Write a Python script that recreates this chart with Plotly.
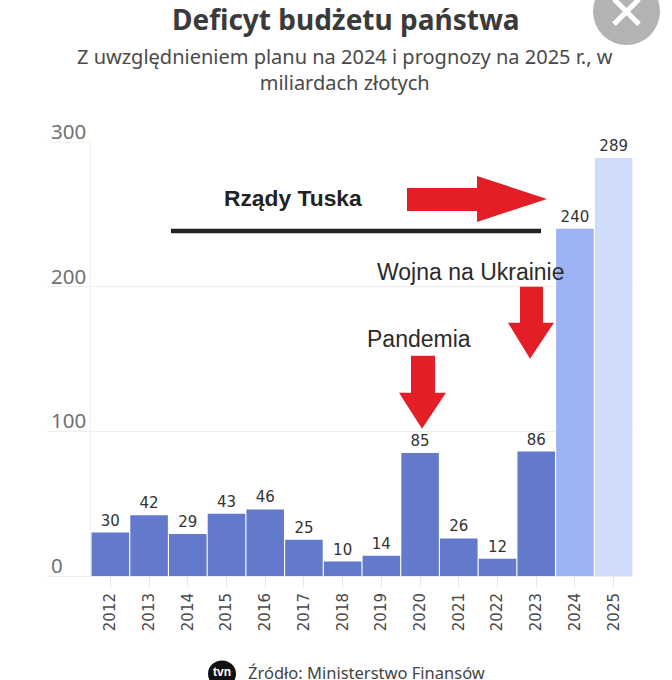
import plotly.graph_objects as go

years = ["2012", "2013", "2014", "2015", "2016", "2017", "2018", "2019", "2020", "2021", "2022", "2023", "2024", "2025"]
deficit = [30, 42, 29, 43, 46, 25, 10, 14, 85, 26, 12, 86, 240, 289]
bar_colors = ["#6279cc"] * 12 + ["#9db1f5", "#d0dcfb"]
y_ticks = [0, 100, 200, 300]

WIDTH = 672
HEIGHT = 680
LEFT, RIGHT, TOP, BOTTOM = 91, 633, 142, 576.5


# pixel position in the picture -> paper coordinates
def px(x):
    return (x - LEFT) / (RIGHT - LEFT)


def py(y):
    return (BOTTOM - y) / (BOTTOM - TOP)


def polygon(points):
    return "M " + " L ".join("%.4f,%.4f" % (px(x), py(y)) for x, y in points) + " Z"


fig = go.Figure()
fig.add_trace(go.Bar(
    x=years,
    y=deficit,
    marker={"color": bar_colors, "line": {"width": 0}},
    text=deficit,
    textposition="outside",
    textangle=0,
    cliponaxis=False,
    textfont={"family": "DejaVu Sans", "size": 15, "color": "#333333"},
    hoverinfo="skip",
))

annotations = [
    {"text": "Deficyt budżetu państwa", "x": 346, "y": 19, "size": 28, "color": "#3a3a3a",
     "family": "Noto Sans", "bold": True},
    {"text": "Z uwzględnieniem planu na 2024 i prognozy na 2025 r., w<br>miliardach złotych", "x": 345, "y": 69,
     "size": 20, "color": "#4a4a4a", "family": "Noto Sans"},
    {"text": "Rządy Tuska", "x": 293, "y": 198, "size": 22.8, "color": "#222222",
     "family": "Liberation Sans", "bold": True},
    {"text": "Wojna na Ukrainie", "x": 471, "y": 272, "size": 23, "color": "#2b2b2b",
     "family": "Liberation Sans"},
    {"text": "Pandemia", "x": 419, "y": 339, "size": 23, "color": "#2b2b2b", "family": "Liberation Sans"},
    {"text": "Źródło: Ministerstwo Finansów", "x": 366, "y": 673, "size": 16.5, "color": "#444444",
     "family": "Noto Sans"},
    {"text": "tvn", "x": 222, "y": 673, "size": 12, "color": "#ffffff", "family": "Liberation Sans",
     "bold": True},
]
layout_annotations = []
for a in annotations:
    layout_annotations.append({
        "text": "<b>%s</b>" % a["text"] if a.get("bold") else a["text"],
        "xref": "paper", "yref": "paper", "x": px(a["x"]), "y": py(a["y"]),
        "xanchor": "center", "yanchor": "middle", "showarrow": False,
        "font": {"family": a["family"], "size": a["size"], "color": a["color"]},
    })

# y labels sit on top of the gridlines, at the left end
for tick in y_ticks:
    layout_annotations.append({
        "text": str(tick), "xref": "paper", "yref": "y", "x": px(49), "y": tick, "yshift": 11,
        "xanchor": "left", "yanchor": "middle", "showarrow": False,
        "font": {"family": "Noto Sans", "size": 20.5, "color": "#707070"},
    })

red = "#e31e26"
shapes = [
    # close button
    {"type": "circle", "xref": "paper", "yref": "paper", "x0": px(593), "x1": px(660), "y0": py(45), "y1": py(-23),
     "fillcolor": "#b3b3b3", "line": {"width": 0}},
    {"type": "line", "xref": "paper", "yref": "paper", "x0": px(614), "x1": px(639), "y0": py(-1), "y1": py(24),
     "line": {"color": "#ffffff", "width": 5}},
    {"type": "line", "xref": "paper", "yref": "paper", "x0": px(639), "x1": px(614), "y0": py(-1), "y1": py(24),
     "line": {"color": "#ffffff", "width": 5}},
    # Tusk line
    {"type": "line", "xref": "paper", "yref": "paper", "x0": px(171), "x1": px(541), "y0": py(231), "y1": py(231),
     "line": {"color": "#222222", "width": 4.5}},
    # red arrows
    {"type": "path", "xref": "paper", "yref": "paper", "fillcolor": red, "line": {"width": 0},
     "path": polygon([(407, 188), (477, 188), (477, 176), (547, 199), (477, 222), (477, 211), (407, 211)])},
    {"type": "path", "xref": "paper", "yref": "paper", "fillcolor": red, "line": {"width": 0},
     "path": polygon([(520, 287), (543, 287), (543, 323), (554, 323), (530, 359), (508, 323), (520, 323)])},
    {"type": "path", "xref": "paper", "yref": "paper", "fillcolor": red, "line": {"width": 0},
     "path": polygon([(411, 356), (435, 356), (435, 393), (446, 393), (422, 429), (399, 393), (411, 393)])},
    # tvn logo
    {"type": "circle", "xref": "paper", "yref": "paper", "x0": px(208), "x1": px(236), "y0": py(688), "y1": py(661),
     "fillcolor": "#111111", "line": {"width": 0}},
]

fig.update_layout(
    width=WIDTH,
    height=HEIGHT,
    margin={"l": LEFT, "r": WIDTH - RIGHT, "t": TOP, "b": HEIGHT - BOTTOM, "pad": 0},
    paper_bgcolor="#ffffff",
    plot_bgcolor="#ffffff",
    showlegend=False,
    bargap=0.03,
    annotations=layout_annotations,
    shapes=shapes,
)
fig.update_xaxes(
    type="category",
    tickvals=years,
    ticks="outside",
    ticklen=10,
    tickwidth=1,
    tickcolor="#e6e6e6",
    tickangle=-90,
    tickfont={"family": "DejaVu Sans", "size": 15, "color": "#4a4a4a"},
    showgrid=False,
    showline=True,
    linecolor="#eeeeee",
    linewidth=1,
)
fig.update_yaxes(
    range=[0, 300],
    tickvals=y_ticks,
    showticklabels=False,
    ticks="outside",
    ticklen=43,
    tickwidth=1,
    tickcolor="#eeeeee",
    gridcolor="#eeeeee",
    gridwidth=1,
    zeroline=False,
    showline=True,
    linecolor="#eeeeee",
    linewidth=1,
)

# body margin would push the figure 8px in and cut the close button
fig.write_html("out.html", config={"displayModeBar": False}, post_script="document.body.style.margin = '0';")
